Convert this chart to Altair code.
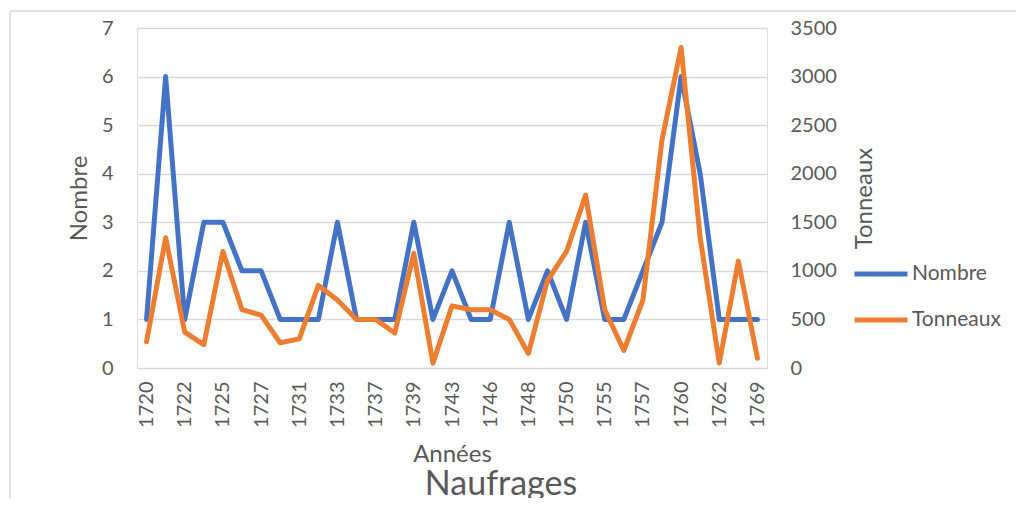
import altair as alt
import pandas as pd

# ---- data ----
years = ["1720", "1721", "1722", "1724", "1725", "1726", "1727", "1729", "1731", "1732",
         "1733", "1735", "1737", "1738", "1739", "1741", "1743", "1744", "1746", "1747",
         "1748", "1749", "1750", "1752", "1755", "1756", "1757", "1758", "1760", "1761",
         "1762", "1765", "1769"]
nombre = [1, 6, 1, 3, 3, 2, 2, 1, 1, 1,
          3, 1, 1, 1, 3, 1, 2, 1, 1, 3,
          1, 2, 1, 3, 1, 1, 2, 3, 6, 4,
          1, 1, 1]
tonneaux = [270, 1340, 370, 240, 1200, 600, 545, 260, 300, 850,
            700, 500, 500, 360, 1180, 50, 640, 600, 600, 500,
            150, 900, 1200, 1780, 600, 180, 700, 2350, 3300, 1340,
            50, 1100, 100]
shown_years = years[::2]
left_ticks = [0, 1, 2, 3, 4, 5, 6, 7]
right_ticks = [0, 500, 1000, 1500, 2000, 2500, 3000, 3500]
series = ["Nombre", "Tonneaux"]
colors = ["#4472C4", "#ED7D31"]

df = pd.DataFrame({"annee": years, "Nombre": nombre, "Tonneaux": tonneaux})

FONT = "Lato"
GREY = "#595959"
GRID = "#d9d9d9"
LW = 5

x = alt.X(
    "annee:N", sort=years,
    scale=alt.Scale(type="point", padding=0.5),
    axis=alt.Axis(values=shown_years, labelAngle=270, title="Années",
                  labelFontSize=20, titleFontSize=24, labelPadding=13,
                  titlePadding=15, domain=False, ticks=False, grid=False,
                  labelColor=GREY, titleColor=GREY, titleFontWeight="normal",
                  labelFont=FONT, titleFont=FONT),
)

color = alt.Color(
    "serie:N",
    scale=alt.Scale(domain=series, range=colors),
    legend=alt.Legend(title=None, orient="none", legendX=715, legendY=217,
                      symbolType="stroke", symbolSize=2809, symbolStrokeWidth=LW,
                      labelFontSize=21, labelFont=FONT, labelColor=GREY,
                      rowPadding=7, labelOffset=2, padding=0),
)

line_n = (
    alt.Chart(df)
    .transform_calculate(serie="'Nombre'")
    .mark_line(strokeWidth=LW, strokeJoin="round", strokeCap="round")
    .encode(
        x=x,
        y=alt.Y("Nombre:Q", scale=alt.Scale(domain=[0, 7]),
                axis=alt.Axis(values=left_ticks, orient="left", grid=True,
                              gridColor=GRID, gridWidth=1.5, domain=False,
                              ticks=False, labelPadding=24, titlePadding=10,
                              title="Nombre", titleFontSize=24, labelFontSize=20,
                              labelColor=GREY, titleColor=GREY,
                              titleFontWeight="normal", labelFont=FONT,
                              titleFont=FONT)),
        color=color,
    )
)

line_t = (
    alt.Chart(df)
    .transform_calculate(serie="'Tonneaux'")
    .mark_line(strokeWidth=LW, strokeJoin="round", strokeCap="round")
    .encode(
        x=x,
        y=alt.Y("Tonneaux:Q", scale=alt.Scale(domain=[0, 3500]),
                axis=alt.Axis(values=right_ticks, orient="right", grid=False,
                              format="d",
                              domain=False, ticks=False, labelPadding=23,
                              titlePadding=40, title="Tonneaux", titleAngle=270,
                              titleFontSize=24, labelFontSize=20,
                              labelColor=GREY, titleColor=GREY,
                              titleFontWeight="normal", labelFont=FONT,
                              titleFont=FONT)),
        color=color,
    )
)

frame_data = alt.Data(values=[{"k": 1}])
border_top = alt.Chart(frame_data).mark_rule(color=GRID, strokeWidth=1.5).encode(
    x=alt.value(-127), x2=alt.value(880), y=alt.value(-17))
border_left = alt.Chart(frame_data).mark_rule(color=GRID, strokeWidth=1.5).encode(
    x=alt.value(-127), y=alt.value(-17), y2=alt.value(470))

chart = (
    alt.layer(border_top, border_left, line_n, line_t)
    .resolve_scale(y="independent")
    .properties(
        width=630, height=340,
        padding={"left": 129, "top": 20, "right": 249, "bottom": 130},
        autosize="none",
        title=alt.TitleParams("Naufrages", orient="bottom", anchor="middle",
                              fontSize=34, font=FONT, color=GREY,
                              fontWeight="normal", offset=0, dy=-31, dx=49),
    )
    .configure_view(stroke=None)
    .configure(background="white")
)

chart.save("out.html", embed_options={"renderer": "svg", "actions": False})
